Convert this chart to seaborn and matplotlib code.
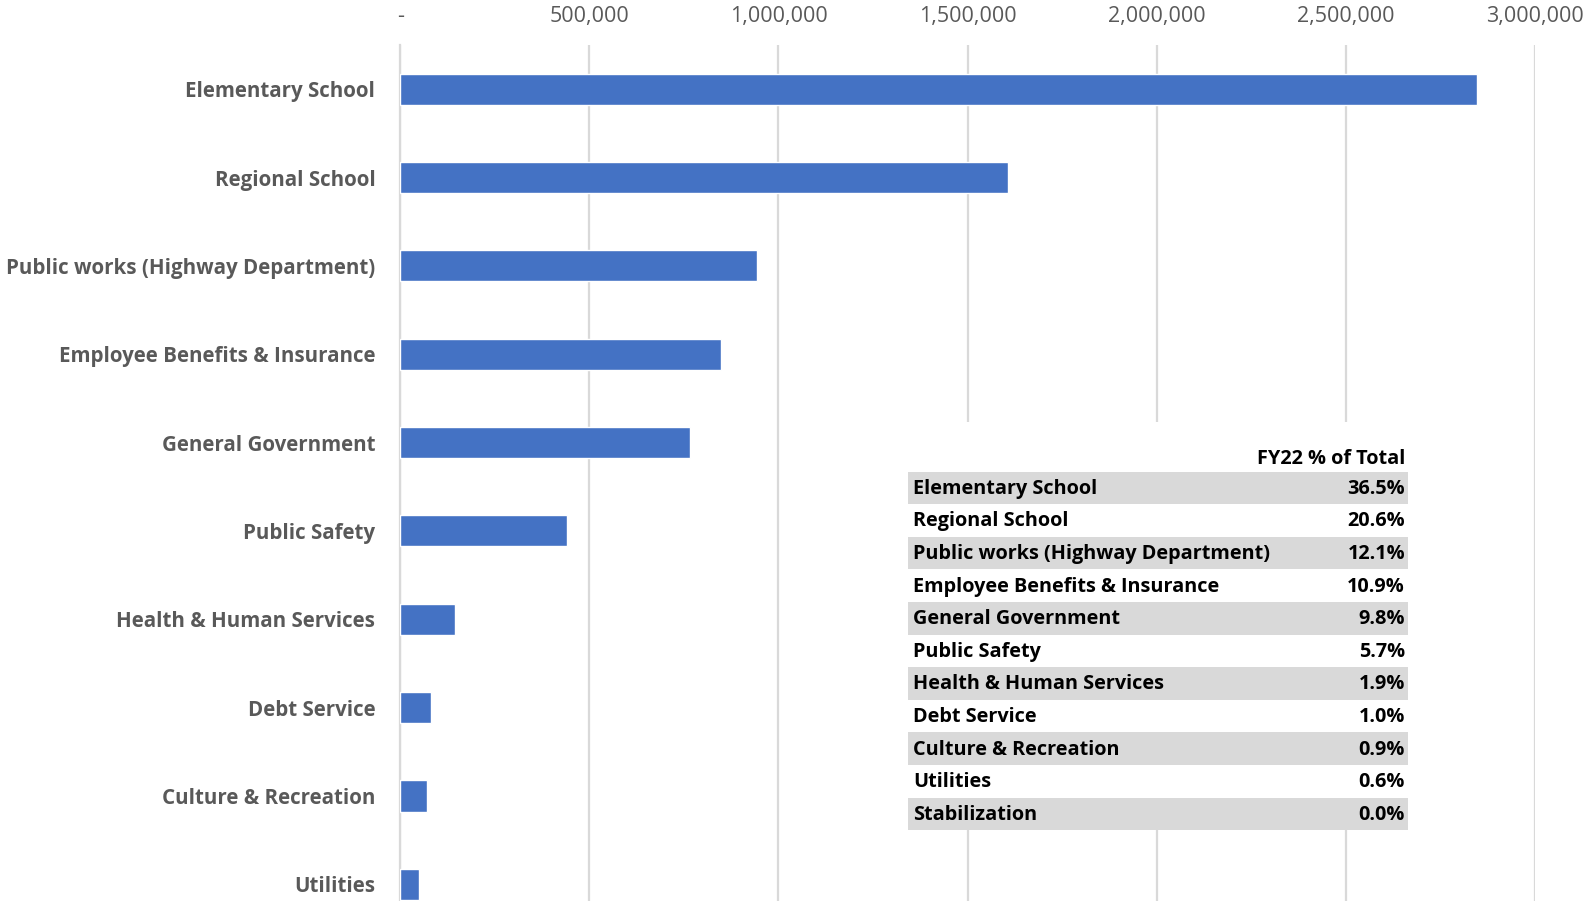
import matplotlib
matplotlib.use("Agg")
import matplotlib.pyplot as plt
import seaborn as sns
import pandas as pd
from matplotlib.patches import Rectangle
from matplotlib.ticker import FuncFormatter

categories = ["Elementary School", "Regional School", "Public works (Highway Department)",
              "Employee Benefits & Insurance", "General Government", "Public Safety",
              "Health & Human Services", "Debt Service", "Culture & Recreation",
              "Utilities", "Stabilization"]
amounts = [2848000, 1607000, 943000, 848000, 765000, 442000, 145000, 80000, 71000, 49000, 0]
pct_labels = ["36.5%", "20.6%", "12.1%", "10.9%", "9.8%", "5.7%", "1.9%", "1.0%", "0.9%", "0.6%", "0.0%"]
table_header = "FY22 % of Total"
x_ticks = [0, 500000, 1000000, 1500000, 2000000, 2500000, 3000000]

sns.set_theme(style="white")
plt.rcParams['font.family'] = ['Open Sans', 'DejaVu Sans']

W, H = 1585, 901
fig = plt.figure(figsize=(W / 100, H / 100), dpi=100)

def fx(px):
    return px / W

def fy(py):
    return 1 - py / H

ax_left, ax_right, ax_top = 400.3, 1534.7, 45.0
ax = fig.add_axes([fx(ax_left), 0, fx(ax_right) - fx(ax_left), fy(ax_top)])

df = pd.DataFrame({"category": categories, "amount": amounts})
sns.barplot(data=df, y="category", x="amount", order=categories, color="#4472C4",
            width=0.354, saturation=1, ax=ax, zorder=3)

ax.set_xlim(0, 3000000)
ax.set_ylim(9.19, -0.5)
ax.set_xticks(x_ticks)
ax.xaxis.set_major_formatter(FuncFormatter(lambda v, p: "-" if v == 0 else f"{int(v):,}"))
ax.xaxis.tick_top()
ax.tick_params(axis="x", length=0, pad=13, labelsize=15.5, labelcolor="#595959")
ax.tick_params(axis="y", length=0, pad=18, labelsize=14.8, labelcolor="#595959")
for lab in ax.get_yticklabels():
    lab.set_fontweight("bold")
ax.set_xlabel("")
ax.set_ylabel("")
ax.grid(axis="x", color="#D9D9D9", linewidth=1.6, zorder=0)
ax.set_axisbelow(True)
for s in ["top", "right", "bottom"]:
    ax.spines[s].set_visible(False)
ax.spines["left"].set_color("#D9D9D9")
ax.spines["left"].set_linewidth(1.6)

# Table overlay
t_left, t_right = 908, 1408
row_top, row_h = 471.5, 32.6
bg_top = 422
n = len(categories)
fig.patches.append(Rectangle((fx(t_left), fy(row_top + n * row_h)), fx(t_right) - fx(t_left),
                             fy(bg_top) - fy(row_top + n * row_h), transform=fig.transFigure,
                             facecolor="white", edgecolor="none", zorder=5))
fig.text(fx(1405), fy(459), table_header, ha="right", va="center", fontsize=14.3,
         fontweight="bold", color="#000000", zorder=7)
for i, (c, p) in enumerate(zip(categories, pct_labels)):
    y0 = row_top + i * row_h
    if i % 2 == 0:
        fig.patches.append(Rectangle((fx(t_left), fy(y0 + row_h)), fx(t_right) - fx(t_left),
                                     fy(y0) - fy(y0 + row_h), transform=fig.transFigure,
                                     facecolor="#D9D9D9", edgecolor="none", zorder=6))
    yc = fy(y0 + row_h / 2 + 1)
    fig.text(fx(913), yc, c, ha="left", va="center", fontsize=14.3, fontweight="bold",
             color="#000000", zorder=7)
    fig.text(fx(1405), yc, p, ha="right", va="center", fontsize=14.3, fontweight="bold",
             color="#000000", zorder=7)

fig.savefig("out.png", dpi=100)
